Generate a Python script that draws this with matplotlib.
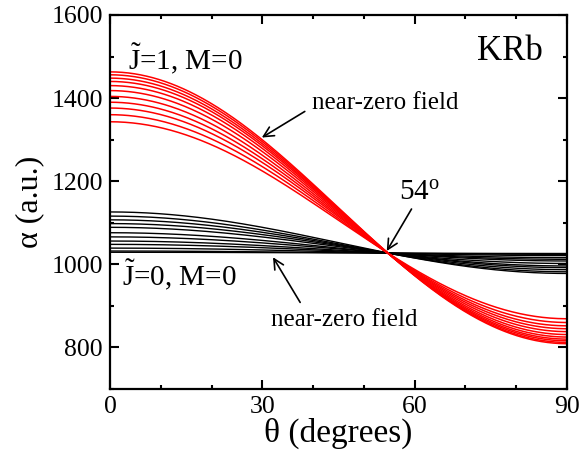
import numpy as np
import matplotlib
matplotlib.use("Agg")
import matplotlib.pyplot as plt
from matplotlib.ticker import MultipleLocator

plt.rcParams['font.family'] = ['Liberation Serif', 'DejaVu Serif']
plt.rcParams['mathtext.fontset'] = 'custom'
plt.rcParams['mathtext.rm'] = 'Liberation Serif'
plt.rcParams['mathtext.it'] = 'Liberation Serif:italic'

# Polarizability components (a.u.) along / perpendicular to the field axis,
# one entry per field strength, for the two rotational states
alpha_par_J1 = [1463, 1456, 1448, 1440, 1430, 1418, 1404, 1390, 1376, 1360, 1343]
alpha_perp_J1 = [809, 812, 816, 820, 825, 831, 838, 845, 852, 860, 869]
alpha_par_J0 = [1126, 1116, 1107, 1098, 1089, 1076, 1066, 1056, 1048, 1039, 1032, 1029]
alpha_perp_J0 = [978, 982, 987, 992, 996, 1002, 1008, 1012, 1016, 1021, 1024, 1026]

x_ticks = [0, 30, 60, 90]
y_ticks = [800, 1000, 1200, 1400, 1600]

theta = np.linspace(0, 90, 301)
c2 = np.cos(np.radians(theta)) ** 2
s2 = 1 - c2

fig = plt.figure(figsize=(5.81, 4.53), dpi=100)
ax = fig.add_axes([0.1893, 0.1413, 0.7867, 0.8257])

for ap, aq in zip(alpha_par_J0, alpha_perp_J0):
    ax.plot(theta, ap * c2 + aq * s2, color='black', lw=1.0)
for ap, aq in zip(alpha_par_J1, alpha_perp_J1):
    ax.plot(theta, ap * c2 + aq * s2, color='red', lw=1.1)

ax.set_xlim(0, 90)
ax.set_ylim(700, 1600)
ax.set_xticks(x_ticks)
ax.set_yticks(y_ticks)
ax.xaxis.set_minor_locator(MultipleLocator(10))
ax.yaxis.set_minor_locator(MultipleLocator(100))
ax.tick_params(which='both', direction='in', top=True, right=True,
               labelsize=18.5, width=1.5, color='black')
ax.tick_params(which='major', length=6.5, pad=5)
ax.tick_params(which='minor', length=3)
for sp in ax.spines.values():
    sp.set_linewidth(1.6)

ax.set_xlabel('θ (degrees)', fontsize=24, labelpad=0)
ax.set_ylabel('α (a.u.)', fontsize=23, labelpad=5)

ax.text(3.5, 1494, r'$\tilde{\mathrm{J}}$=1, M=0', fontsize=21, ha='left', va='center')
ax.text(2.4, 976, r'$\tilde{\mathrm{J}}$=0, M=0', fontsize=21, ha='left', va='center')
ax.text(85.3, 1511, 'KRb', fontsize=25, ha='right', va='center')

arrow = dict(arrowstyle='->', color='black', lw=1.2, mutation_scale=18)
ax.annotate('near-zero field', xy=(29.9, 1305), xytext=(39.8, 1389),
            fontsize=18, ha='left', va='center',
            arrowprops=dict(arrow, shrinkA=0, shrinkB=0, relpos=(-0.05, 0.1)))
ax.annotate('near-zero field', xy=(32.1, 1017), xytext=(46.1, 866),
            fontsize=18, ha='center', va='center',
            arrowprops=dict(arrow, shrinkA=0, shrinkB=0, relpos=(0.2, 1.3)))
ax.annotate(r'54$^{\mathrm{o}}$', xy=(54.5, 1032), xytext=(61.0, 1171),
            fontsize=21, ha='center', va='center',
            arrowprops=dict(arrow, shrinkA=0, shrinkB=0, relpos=(0.3, -0.1)))

fig.savefig('out.png', dpi=100)
